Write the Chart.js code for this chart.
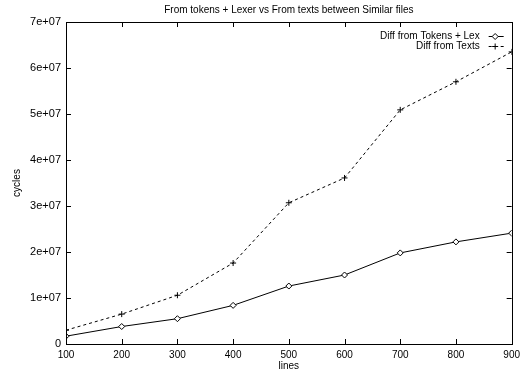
<!DOCTYPE html>
<html>
<head>
<meta charset="utf-8">
<script src="https://cdn.jsdelivr.net/npm/chart.js@4/dist/chart.umd.min.js"></script>
<style>
  html, body { margin: 0; padding: 0; background: #fff; }
  #wrap { width: 525px; height: 372px; }
</style>
</head>
<body>
<div id="wrap"><canvas id="myChart" width="525" height="372"></canvas></div>
<script>
const lines = [100, 200, 300, 400, 500, 600, 700, 800, 900];
const tokensLex = [1.7e6, 3.8e6, 5.5e6, 8.4e6, 12.6e6, 15.0e6, 19.8e6, 22.2e6, 24.1e6];
const texts = [3.0e6, 6.5e6, 10.6e6, 17.6e6, 30.7e6, 36.1e6, 50.9e6, 57.0e6, 63.5e6];
const chartTitle = 'From tokens + Lexer vs From texts between Similar files';

const FAMILY = '"Liberation Sans", Arial, Helvetica, sans-serif';
const FONT = { family: FAMILY, size: 10 };

function sciLabel(v) {
    if (v === 0) return '0';
    const e = Math.floor(Math.log10(v));
    const m = Math.round(v / Math.pow(10, e));
    return m + 'e+' + String(e).padStart(2, '0');
}

// gnuplot style: title over the plot, frame, inward ticks and legend
const gnuplotFrame = {
    id: 'gnuplotFrame',
    afterDatasetsDraw(chart) {
        const ctx = chart.ctx;
        const a = chart.chartArea;
        const xs = chart.scales.x, ys = chart.scales.y;
        ctx.save();

        ctx.font = '10px ' + FAMILY;
        ctx.fillStyle = '#000';
        ctx.textAlign = 'center';
        ctx.textBaseline = 'middle';
        ctx.fillText(chartTitle, (a.left + a.right) / 2, 10);

        ctx.strokeStyle = '#000';
        ctx.lineWidth = 1;
        ctx.setLineDash([]);
        ctx.strokeRect(Math.round(a.left) + 0.5, Math.round(a.top) + 0.5,
            Math.round(a.right - a.left), Math.round(a.bottom - a.top));
        const tl = 5;
        ctx.beginPath();
        xs.ticks.forEach(t => {
            const px = Math.round(xs.getPixelForValue(t.value)) + 0.5;
            ctx.moveTo(px, a.bottom); ctx.lineTo(px, a.bottom - tl);
            ctx.moveTo(px, a.top); ctx.lineTo(px, a.top + tl);
        });
        ys.ticks.forEach(t => {
            const py = Math.round(ys.getPixelForValue(t.value)) + 0.5;
            ctx.moveTo(a.left, py); ctx.lineTo(a.left + tl, py);
            ctx.moveTo(a.right, py); ctx.lineTo(a.right - tl, py);
        });
        ctx.stroke();

        // legend, top right inside the frame
        ctx.textAlign = 'right';
        chart.data.datasets.forEach((ds, i) => {
            const y = Math.round(a.top + 14 + i * 10) + 0.5;
            const x0 = a.right - 23, x1 = a.right - 8;
            ctx.fillStyle = '#000';
            ctx.fillText(ds.label, x0 - 9, y);
            ctx.beginPath();
            ctx.setLineDash(ds.borderDash || []);
            ctx.lineWidth = ds.borderWidth;
            ctx.moveTo(x0, y); ctx.lineTo(x1, y);
            ctx.stroke();
            ctx.setLineDash([]);
            ctx.fillStyle = ds.pointBackgroundColor || '#000';
            Chart.helpers.drawPoint(ctx, {
                pointStyle: ds.pointStyle, radius: ds.pointRadius, borderWidth: 1
            }, (x0 + x1) / 2 - 1, y);
        });
        ctx.restore();
    }
};

const ctx = document.getElementById('myChart').getContext('2d');
const myChart = new Chart(ctx, {
    type: 'line',
    data: {
        datasets: [{
            label: 'Diff from Tokens + Lex',
            data: lines.map((x, i) => ({ x: x, y: tokensLex[i] })),
            borderColor: '#000',
            borderWidth: 1,
            pointStyle: 'rectRot',
            pointRadius: 3,
            pointBackgroundColor: '#fff',
            pointBorderColor: '#000',
            pointBorderWidth: 1,
            tension: 0
        }, {
            label: 'Diff from Texts',
            data: lines.map((x, i) => ({ x: x, y: texts[i] })),
            borderColor: '#000',
            borderWidth: 1,
            borderDash: [3, 3],
            pointStyle: 'cross',
            pointRadius: 3,
            pointBorderColor: '#000',
            pointBorderWidth: 1,
            tension: 0
        }]
    },
    options: {
        responsive: false,
        animation: false,
        layout: { padding: { left: 0, right: 10, top: 22, bottom: 0 } },
        plugins: {
            legend: { display: false },
            tooltip: { enabled: false },
            title: { display: false }
        },
        scales: {
            x: {
                type: 'linear',
                min: 100,
                max: 900,
                grid: { display: false, drawTicks: false },
                border: { display: false },
                ticks: {
                    stepSize: 100,
                    color: '#000',
                    font: FONT,
                    padding: 5,
                    maxRotation: 0
                },
                title: {
                    display: true,
                    text: 'lines',
                    color: '#000',
                    font: FONT,
                    padding: { top: 0, bottom: 0 }
                },
                afterFit(scale) { scale.height = 28; }
            },
            y: {
                min: 0,
                max: 7e7,
                grid: { display: false, drawTicks: false },
                border: { display: false },
                ticks: {
                    stepSize: 1e7,
                    color: '#000',
                    font: { family: FAMILY, size: 11 },
                    padding: 5,
                    callback: v => sciLabel(v)
                },
                title: {
                    display: true,
                    text: 'cycles',
                    color: '#000',
                    font: FONT,
                    padding: { top: 11, bottom: 0 }
                },
                afterFit(scale) { scale.width = 66; }
            }
        }
    },
    plugins: [gnuplotFrame]
});
</script>
</body>
</html>
